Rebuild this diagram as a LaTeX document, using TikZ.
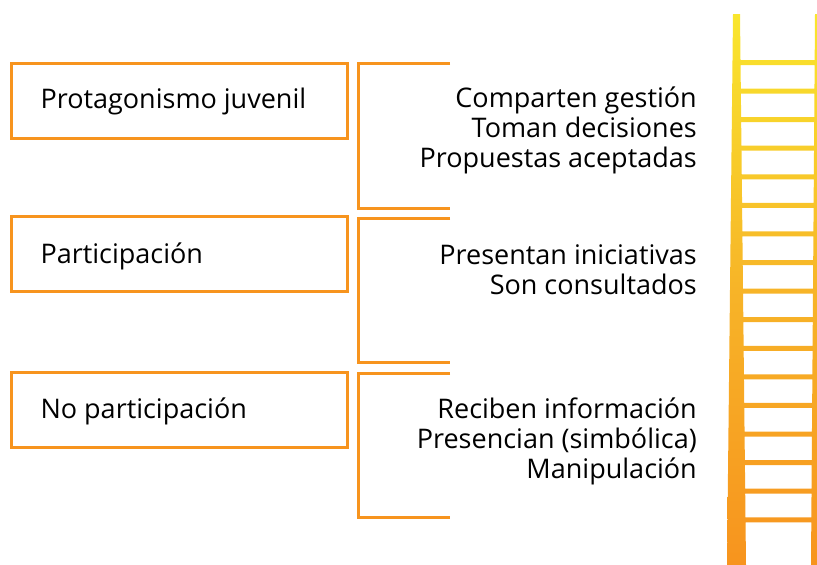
\documentclass[tikz,border=0pt]{standalone}
\usepackage{fontspec}
\setmainfont{Open Sans}
\definecolor{orng}{RGB}{247,148,30}
\definecolor{ltop}{RGB}{249,230,45}
\definecolor{lmid}{RGB}{247,180,40}
\definecolor{lbot}{RGB}{247,148,30}
\tikzset{
  lbl/.style={draw=orng, line width=3pt, minimum width=336pt, minimum height=75pt, inner sep=0pt},
  lbltext/.style={font=\fontsize{27}{30}\selectfont, anchor=west},
  items/.style={font=\fontsize{27}{30}\selectfont, anchor=east, align=right, inner sep=0pt},
  brk/.style={draw=orng, line width=3pt}
}
\begin{document}
\begin{tikzpicture}[x=1pt,y=-1pt]
\useasboundingbox (0,0) rectangle (817,565);
% left boxes
\node[lbl] (b1) at (179,100.5) {};
\node[lbl] (b2) at (179,254) {};
\node[lbl] (b3) at (179,410) {};
\node[lbltext] (t1) at (37,101) {Protagonismo juvenil};
\node[lbltext] (t2) at (37,256) {Participación};
\node[lbltext] (t3) at (37,411) {No participación};
% brackets
\draw[brk] (450,63) -- (358,63) -- (358,208) -- (450,208);
\draw[brk] (450,218) -- (358,218) -- (358,362) -- (450,362);
\draw[brk] (450,373) -- (358,373) -- (358,517) -- (450,517);
% item lists
\node[items] (i1) at (697,130) {Comparten gestión\\Toman decisiones\\Propuestas aceptadas};
\node[items] (i2) at (697,270) {Presentan iniciativas\\Son consultados};
\node[items] (i3) at (697,441) {Reciben información\\Presencian (simbólica)\\Manipulación};
% ladder
\shade[top color=ltop, bottom color=lbot, middle color=lmid]
  (733,14) -- (727,565) -- (746,565) -- (740,14) -- cycle
  (815,14) -- (811,565) -- (817,565) -- (817,14) -- cycle
  \foreach \k in {0,...,16} { (738,{60+28.58*\k}) rectangle (816,{65+28.58*\k}) };
\end{tikzpicture}
\end{document}
